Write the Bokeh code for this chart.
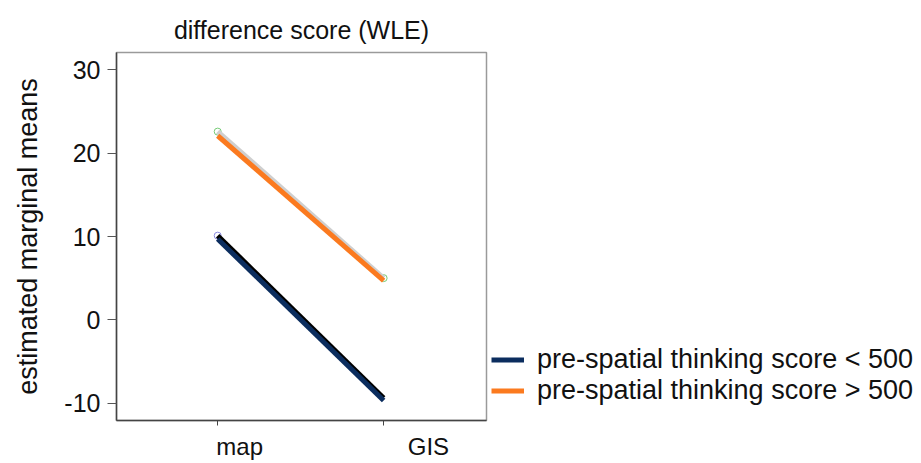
from bokeh.plotting import figure
from bokeh.models import Range1d, FixedTicker, Legend, LegendItem
from bokeh.embed import file_html
from bokeh.resources import INLINE

# ---- data ----
categories = ["map", "GIS"]
cat_pos = [1, 2]
label_pos = [1.1325, 2.27]
low_mean = [9.7, -9.7]      # navy line, pre-spatial thinking score < 500
low_ref = [10.1, -9.4]      # black line under it
high_mean = [22.1, 4.7]     # orange line, pre-spatial thinking score > 500
high_ref = [22.6, 5.0]      # grey line under it
y_ticks = [-10, 0, 10, 20, 30]
y_tick_labels = ["-10", "0", "10", "20", "30"]
series_labels = ["pre-spatial thinking score < 500", "pre-spatial thinking score > 500"]

FONT = "Liberation Sans"
NAVY = "#0b2d5e"
ORANGE = "#fb7a1f"

p = figure(frame_width=370, frame_height=368, output_backend="svg", toolbar_location=None,
           x_range=Range1d(0.39, 2.62), y_range=Range1d(-12.1, 32.1),
           min_border_left=116, min_border_right=0, min_border_top=52, min_border_bottom=35,
           title="difference score (WLE)")

p.title.text_font = FONT
p.title.text_font_size = "25px"
p.title.text_font_style = "normal"
p.title.align = "center"
p.title.text_color = "#111111"
p.title.standoff = 17

p.xgrid.visible = False
p.ygrid.visible = False
p.outline_line_color = "#9a9a9a"
p.outline_line_width = 1.5
p.background_fill_color = "white"
p.border_fill_color = "white"

# x axis: tick marks at categories (minor ticks), labels shifted (major ticks)
p.xaxis.ticker = FixedTicker(ticks=label_pos, minor_ticks=cat_pos)
p.xaxis.major_label_overrides = {lp: c for lp, c in zip(label_pos, categories)}
p.xaxis.major_tick_out = 0
p.xaxis.major_tick_in = 0
p.xaxis.minor_tick_out = 5
p.xaxis.minor_tick_in = 0
p.xaxis.minor_tick_line_color = "#444444"
p.xaxis.axis_line_color = "#444444"
p.xaxis.axis_line_width = 1.5
p.xaxis.major_label_text_font = FONT
p.xaxis.major_label_text_font_size = "24px"
p.xaxis.major_label_text_color = "#111111"
p.xaxis.major_label_standoff = 7

p.yaxis.ticker = FixedTicker(ticks=y_ticks)
p.yaxis.major_label_overrides = {t: s for t, s in zip(y_ticks, y_tick_labels)}
p.yaxis.major_tick_out = 9
p.yaxis.major_tick_in = 0
p.yaxis.minor_tick_line_color = None
p.yaxis.major_tick_line_color = "#555555"
p.yaxis.axis_line_color = "#444444"
p.yaxis.axis_line_width = 1.5
p.yaxis.major_label_text_font = FONT
p.yaxis.major_label_text_font_size = "25px"
p.yaxis.major_label_text_color = "#111111"
p.yaxis.major_label_standoff = 7
p.yaxis.axis_label = "estimated marginal means"
p.yaxis.axis_label_text_font = FONT
p.yaxis.axis_label_text_font_size = "27px"
p.yaxis.axis_label_text_font_style = "normal"
p.yaxis.axis_label_text_color = "#111111"
p.yaxis.axis_label_standoff = 18

# small point markers
p.scatter([cat_pos[0]], [low_ref[0]], size=7, fill_color=None, line_color="#8a8ae0", line_width=1)
p.scatter(cat_pos, high_ref, size=7, fill_color=None, line_color="#77cc77", line_width=1)

# lines
p.line(cat_pos, high_ref, line_color="#cfcfcf", line_width=5)
r_high = p.line(cat_pos, high_mean, line_color=ORANGE, line_width=5)
p.line(cat_pos, low_ref, line_color="#000000", line_width=5)
r_low = p.line(cat_pos, low_mean, line_color=NAVY, line_width=5)

legend = Legend(items=[LegendItem(label=series_labels[0], renderers=[r_low]),
                       LegendItem(label=series_labels[1], renderers=[r_high])],
                location=(5, 14), orientation="vertical")
legend.label_text_font = FONT
legend.label_text_font_size = "27px"
legend.label_text_color = "#111111"
legend.border_line_color = None
legend.background_fill_alpha = 0
legend.padding = 0
legend.margin = 0
legend.spacing = 0
legend.glyph_width = 33
legend.glyph_height = 25
legend.label_height = 25
legend.label_standoff = 13
p.add_layout(legend, "right")

open("out.html", "w").write(file_html(p, INLINE))
